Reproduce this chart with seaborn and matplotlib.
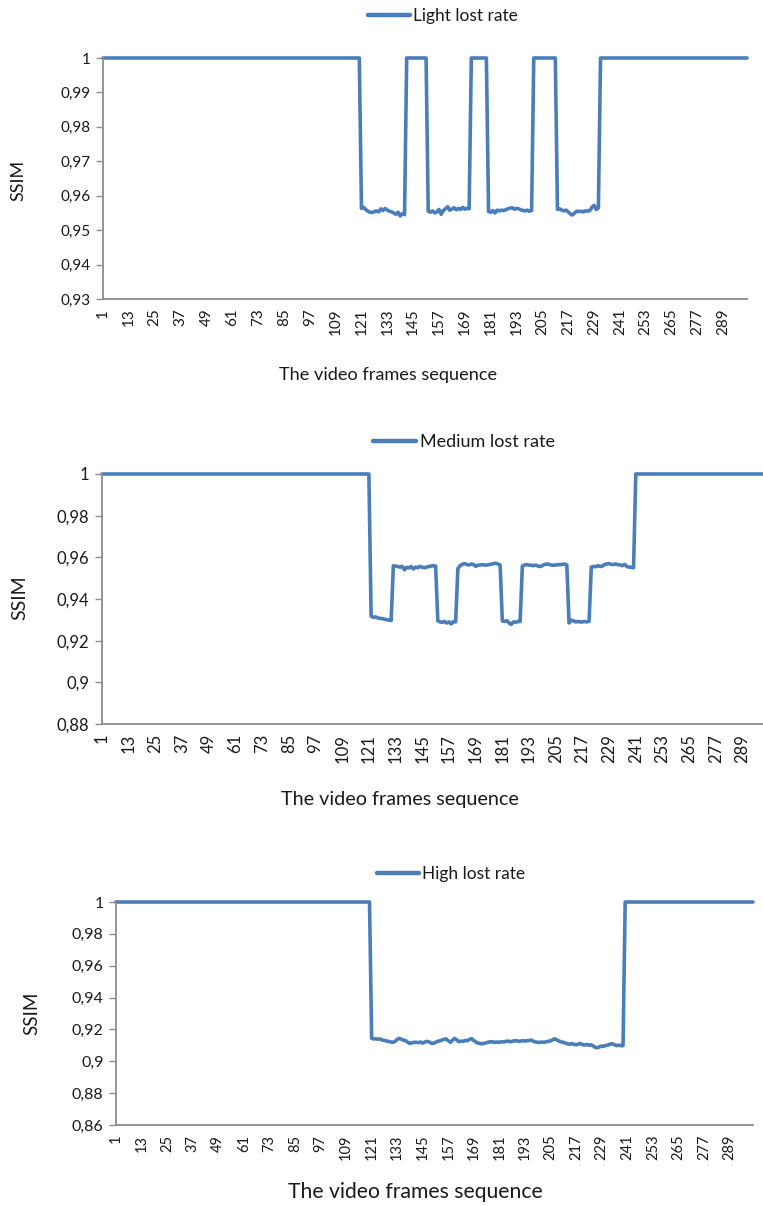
import numpy as np
import pandas as pd
import matplotlib
matplotlib.use("Agg")
import matplotlib.pyplot as plt
from matplotlib.lines import Line2D
import seaborn as sns

# ---------------------------------------------------------------------------
# SSIM per frame for three packet-loss scenarios (frames 1..300).
# Intact frames have SSIM = 1; the listed runs are the degraded stretches.
# ---------------------------------------------------------------------------
n_frames = 300

# Light lost rate: four degraded runs separated by intact frames
light_intact_runs = [120, 10, 8, 11, 69]
light_dip_1 = [0.9563, 0.9566, 0.9560, 0.9555, 0.9552, 0.9551, 0.9554, 0.9556, 0.9553, 0.9562,
               0.9557, 0.9563, 0.9558, 0.9555, 0.9553, 0.9550, 0.9546, 0.9552, 0.9541, 0.9548, 0.9545]
light_dip_2 = [0.9555, 0.9552, 0.9556, 0.9550, 0.9553, 0.9560, 0.9546, 0.9557, 0.9562, 0.9568,
               0.9558, 0.9561, 0.9565, 0.9559, 0.9563, 0.9560, 0.9566, 0.9561, 0.9563, 0.9562]
light_dip_3 = [0.9554, 0.9552, 0.9557, 0.9550, 0.9558, 0.9556, 0.9558, 0.9557, 0.9559, 0.9562,
               0.9564, 0.9565, 0.9561, 0.9563, 0.9562, 0.9559, 0.9557, 0.9556, 0.9558, 0.9555, 0.9557]
light_dip_4 = [0.9560, 0.9562, 0.9558, 0.9556, 0.9558, 0.9553, 0.9547, 0.9544, 0.9550, 0.9555,
               0.9554, 0.9555, 0.9553, 0.9556, 0.9555, 0.9557, 0.9566, 0.9572, 0.9560, 0.9565]

# Medium lost rate: alternating deep and shallow degradation
medium_intact_before = 121
medium_intact_after = 60
medium_low_1 = [0.9318, 0.9312, 0.9314, 0.9309, 0.9307, 0.9306, 0.9303, 0.9301, 0.9298, 0.9297]
medium_mid_1 = [0.9560, 0.9558, 0.9556, 0.9553, 0.9557, 0.9540, 0.9552, 0.9549, 0.9556, 0.9544,
                0.9553, 0.9550, 0.9557, 0.9552, 0.9550, 0.9553, 0.9556, 0.9558, 0.9560, 0.9558]
medium_low_2 = [0.9295, 0.9290, 0.9288, 0.9292, 0.9285, 0.9290, 0.9280, 0.9292, 0.9290]
medium_mid_2 = [0.9545, 0.9560, 0.9566, 0.9570, 0.9566, 0.9563, 0.9568, 0.9566, 0.9557, 0.9562,
                0.9563, 0.9565, 0.9563, 0.9563, 0.9565, 0.9567, 0.9570, 0.9572, 0.9568, 0.9563]
medium_low_3 = [0.9295, 0.9292, 0.9296, 0.9285, 0.9278, 0.9290, 0.9288, 0.9292, 0.9292]
medium_mid_3 = [0.9558, 0.9563, 0.9565, 0.9563, 0.9562, 0.9560, 0.9563, 0.9558, 0.9556, 0.9560,
                0.9566, 0.9568, 0.9566, 0.9563, 0.9562, 0.9563, 0.9565, 0.9565, 0.9566, 0.9568, 0.9563]
medium_low_4 = [0.9285, 0.9298, 0.9295, 0.9290, 0.9292, 0.9290, 0.9290, 0.9292, 0.9290, 0.9293]
medium_mid_4 = [0.9553, 0.9556, 0.9555, 0.9560, 0.9556, 0.9558, 0.9566, 0.9568, 0.9570, 0.9566,
                0.9566, 0.9568, 0.9565, 0.9563, 0.9560, 0.9566, 0.9556, 0.9553, 0.9552, 0.9550]

# High lost rate: one long degraded stretch
high_intact_before = 120
high_intact_after = 61
high_dip = [0.9144, 0.9140, 0.9142, 0.9138, 0.9140, 0.9133, 0.9131, 0.9127, 0.9125, 0.9121,
            0.9119, 0.9125, 0.9138, 0.9144, 0.9138, 0.9133, 0.9129, 0.9119, 0.9112, 0.9117,
            0.9119, 0.9119, 0.9117, 0.9121, 0.9114, 0.9121, 0.9125, 0.9121, 0.9114, 0.9112,
            0.9119, 0.9125, 0.9129, 0.9133, 0.9138, 0.9140, 0.9129, 0.9119, 0.9133, 0.9144,
            0.9133, 0.9123, 0.9127, 0.9125, 0.9131, 0.9129, 0.9138, 0.9142, 0.9129, 0.9121,
            0.9114, 0.9112, 0.9110, 0.9114, 0.9117, 0.9121, 0.9123, 0.9121, 0.9119, 0.9121,
            0.9119, 0.9123, 0.9121, 0.9125, 0.9127, 0.9123, 0.9125, 0.9129, 0.9129, 0.9125,
            0.9127, 0.9129, 0.9127, 0.9129, 0.9131, 0.9133, 0.9125, 0.9121, 0.9119, 0.9119,
            0.9121, 0.9119, 0.9123, 0.9125, 0.9129, 0.9135, 0.9142, 0.9133, 0.9127, 0.9121,
            0.9119, 0.9114, 0.9110, 0.9106, 0.9112, 0.9106, 0.9104, 0.9108, 0.9112, 0.9104,
            0.9102, 0.9106, 0.9100, 0.9104, 0.9096, 0.9087, 0.9085, 0.9091, 0.9096, 0.9094,
            0.9100, 0.9102, 0.9108, 0.9110, 0.9104, 0.9098, 0.9102, 0.9098, 0.9098]

light_title = "Light lost rate"
medium_title = "Medium lost rate"
high_title = "High lost rate"
x_title = "The video frames sequence"
y_title = "SSIM"

light_yticks = [0.93, 0.94, 0.95, 0.96, 0.97, 0.98, 0.99, 1.0]
medium_yticks = [0.88, 0.90, 0.92, 0.94, 0.96, 0.98, 1.0]
high_yticks = [0.86, 0.88, 0.90, 0.92, 0.94, 0.96, 0.98, 1.0]
frame_ticks = list(range(1, 290, 12))

# ---------------------------------------------------------------------------
# assemble the per-frame series
# ---------------------------------------------------------------------------
light_ssim = ([1.0] * light_intact_runs[0] + light_dip_1 + [1.0] * light_intact_runs[1]
              + light_dip_2 + [1.0] * light_intact_runs[2] + light_dip_3
              + [1.0] * light_intact_runs[3] + light_dip_4 + [1.0] * light_intact_runs[4])
medium_ssim = ([1.0] * medium_intact_before + medium_low_1 + medium_mid_1 + medium_low_2
               + medium_mid_2 + medium_low_3 + medium_mid_3 + medium_low_4 + medium_mid_4
               + [1.0] * medium_intact_after)
high_ssim = [1.0] * high_intact_before + high_dip + [1.0] * high_intact_after
frames = np.arange(1, n_frames + 1)

# ---------------------------------------------------------------------------
# styling
# ---------------------------------------------------------------------------
sns.set_style("white")
plt.rcParams["font.family"] = ["Lato", "DejaVu Sans"]
LINE = "#4A7EBB"
AXIS = "#8C8C8C"
TEXT = "#1A1A1A"

W, H = 763, 1206
fig = plt.figure(figsize=(W / 100, H / 100), dpi=100)


def px_axes(left, right, top, bottom):
    return fig.add_axes([left / W, 1 - bottom / H, (right - left) / W, (bottom - top) / H])


def comma(v):
    return f"{v:g}".replace(".", ",")


def draw_panel(series, title, yticks, box, legend_xy, ylab_xy, xlab_xy,
               ytick_fs, xtick_fs, ylabel_fs, xlabel_fs, legend_fs):
    ax = px_axes(*box)
    df = pd.DataFrame({"frame": frames, "ssim": series})
    sns.lineplot(data=df, x="frame", y="ssim", ax=ax, color=LINE, linewidth=2.6,
                 legend=False, clip_on=False, solid_joinstyle="round")
    ax.set_xlim(1, n_frames)
    ax.set_ylim(yticks[0], yticks[-1])
    ax.set_yticks(yticks)
    ax.set_yticklabels([comma(v) for v in yticks], fontsize=ytick_fs, color=TEXT)
    ax.set_xticks(frame_ticks)
    ax.set_xticklabels([str(t) for t in frame_ticks], rotation=90, fontsize=xtick_fs, color=TEXT)
    ax.tick_params(axis="y", length=5, width=1.0, color=AXIS, pad=4, left=True)
    ax.tick_params(axis="x", length=0, pad=7)
    ax.set_xlabel("")
    ax.set_ylabel("")
    for side in ("top", "right"):
        ax.spines[side].set_visible(False)
    for side in ("left", "bottom"):
        ax.spines[side].set_color(AXIS)
        ax.spines[side].set_linewidth(1.3)

    handle = Line2D([], [], color=LINE, linewidth=3.2)
    fig.legend([handle], [title], loc="center left",
               bbox_to_anchor=(legend_xy[0] / W, 1 - legend_xy[1] / H),
               frameon=False, fontsize=legend_fs, handlelength=2.4,
               handletextpad=0.2, borderpad=0, borderaxespad=0, labelcolor=TEXT)
    fig.text(ylab_xy[0] / W, 1 - ylab_xy[1] / H, y_title, rotation=90,
             ha="center", va="center", fontsize=ylabel_fs, color=TEXT)
    fig.text(xlab_xy[0] / W, 1 - xlab_xy[1] / H, x_title,
             ha="center", va="center", fontsize=xlabel_fs, color=TEXT)
    return ax


draw_panel(light_ssim, light_title, light_yticks, (103, 747, 58, 299),
           (368, 16), (18, 180), (388, 375), 11.0, 11.0, 13.0, 13.1, 12.5)
draw_panel(medium_ssim, medium_title, medium_yticks, (102, 767, 474, 724),
           (373, 442), (20, 598), (400, 799), 12.0, 12.0, 14.0, 14.2, 13.0)
draw_panel(high_ssim, high_title, high_yticks, (116, 753, 902, 1125),
           (377, 874), (32, 1013), (415, 1192), 11.5, 10.5, 13.5, 15.2, 12.5)

fig.savefig("out.png", dpi=100)
